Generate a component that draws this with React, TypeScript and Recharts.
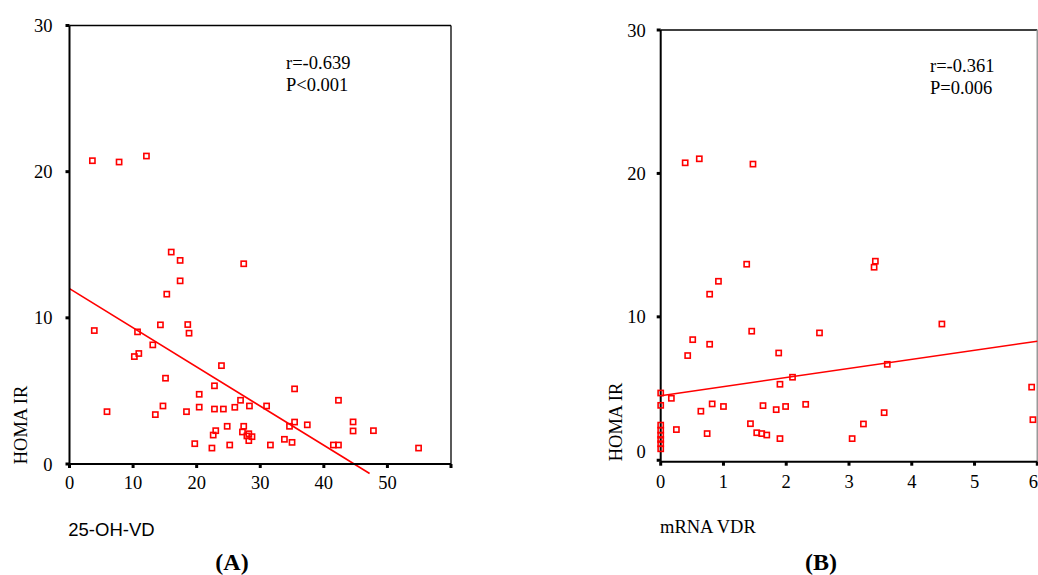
import React from 'react';
import { ScatterChart, Scatter, XAxis, YAxis, ReferenceLine } from 'recharts';

// Panel A: 25-OH-VD vs HOMA IR
const vdA: number[] = [3.6, 7.8, 12.1, 16.0, 17.4, 27.4, 17.4, 15.3, 3.9, 14.3, 18.6, 18.8, 10.7, 13.1, 10.2, 10.9, 23.9, 15.1, 22.8, 35.4, 20.4, 42.3, 26.9, 5.9, 14.7, 13.5, 18.4, 20.4, 22.8, 24.2, 26.0, 28.3, 31.0, 35.4, 34.6, 37.4, 44.6, 44.6, 47.8, 24.8, 27.4, 27.2, 23.0, 22.6, 28.2, 28.7, 27.9, 28.2, 19.7, 22.4, 25.2, 31.6, 33.8, 35.0, 41.5, 42.3, 54.9];
const homaA: number[] = [20.75, 20.66, 21.07, 14.5, 13.93, 13.7, 12.53, 11.62, 9.13, 9.52, 9.54, 8.95, 9.04, 8.15, 7.35, 7.56, 6.73, 5.87, 5.35, 5.14, 4.77, 4.36, 4.36, 3.58, 3.97, 3.38, 3.58, 3.89, 3.76, 3.76, 3.88, 3.97, 3.97, 2.87, 2.58, 2.68, 2.88, 2.26, 2.28, 2.58, 2.58, 2.19, 2.28, 1.98, 2.07, 1.87, 1.92, 1.6, 1.39, 1.09, 1.3, 1.3, 1.69, 1.48, 1.3, 1.3, 1.09];
const fitA = { x: [0, 47.2], y: [12.0, -0.65] };

// Panel B: mRNA VDR vs HOMA IR
const vdrB: number[] = [0.39, 0.615, 1.47, 1.37, 3.42, 3.40, 0.92, 0.78, 4.48, 1.45, 2.53, 0.51, 0.78, 0.43, 1.88, 3.61, 2.10, 1.90, 5.91, 0, 0.17, 0, 0.82, 1.0, 1.63, 1.99, 2.31, 1.84, 0.64, 3.56, 5.93, 0.25, 1.43, 3.23, 0.74, 1.53, 1.61, 1.69, 1.90, 3.05, 0, 0, 0, 0, 0, 0];
const homaB: number[] = [20.74, 21.02, 20.65, 13.67, 13.88, 13.46, 12.48, 11.58, 9.5, 9.0, 8.88, 8.41, 8.09, 7.3, 7.48, 6.69, 5.79, 5.3, 5.1, 4.69, 4.32, 3.83, 3.93, 3.75, 3.81, 3.75, 3.9, 3.53, 3.42, 3.32, 2.83, 2.14, 2.55, 2.53, 1.86, 1.92, 1.86, 1.76, 1.51, 1.51, 2.45, 2.1, 1.75, 1.45, 1.15, 0.8];
const fitB = { x: [0, 6], y: [4.5, 8.3] };

const xTicksA = [0, 10, 20, 30, 40, 50, 60];
const xTicksB = [0, 1, 2, 3, 4, 5, 6];
const yTicks = [0, 10, 20, 30];

const dataA = vdA.map((x, i) => ({ x, y: homaA[i] }));
const dataB = vdrB.map((x, i) => ({ x, y: homaB[i] }));

const SERIF = '"Liberation Serif", "Times New Roman", serif';
const SANS = '"Liberation Sans", Arial, sans-serif';
const RED = '#ff0000';

const Square = (props: any) => {
  const { cx, cy } = props;
  if (cx == null || cy == null) return null;
  return <rect x={cx - 2.6} y={cy - 2.6} width={5.2} height={5.2} fill="none" stroke={RED} strokeWidth={1.6} />;
};

const tickStyle = { fontFamily: SERIF, fontSize: 18.5, fill: '#000' };
const tickLine = { stroke: '#000', strokeWidth: 3 };
const axisLine = { stroke: '#000', strokeWidth: 2 };

const RightYTick = (props: any) => {
  const { x, y, payload } = props;
  const shift = payload.value === 0 ? -9 : 0;
  return (
    <text x={x} y={y + shift} dy="0.355em" textAnchor="end" fontFamily={SERIF} fontSize={18.5} fill="#000">
      {payload.value}
    </text>
  );
};

export default function App() {
  return (
    <div style={{ position: 'absolute', left: 0, top: 0, width: 1038, height: 575, overflow: 'hidden', background: '#fff' }}>
      <div style={{ position: 'absolute', left: 0, top: 0 }}>
        <ScatterChart width={460} height={575} margin={{ top: 25.5, right: 9, bottom: 81, left: 9.5 }}>
          <XAxis
            type="number"
            dataKey="x"
            domain={[0, 60]}
            ticks={xTicksA}
            tickFormatter={(v: number) => (v === 60 ? '' : String(v))}
            tick={tickStyle}
            tickLine={tickLine}
            axisLine={axisLine}
            tickSize={4}
            tickMargin={8}
            height={30}
          />
          <YAxis
            type="number"
            dataKey="y"
            domain={[0, 30]}
            ticks={yTicks}
            tick={tickStyle}
            tickLine={tickLine}
            axisLine={axisLine}
            tickSize={4}
            tickMargin={13}
            width={60}
          />
          <ReferenceLine y={30} stroke="#000" strokeWidth={1.3} />
          <ReferenceLine x={60} stroke="#000" strokeWidth={1.3} />
          <ReferenceLine
            segment={[{ x: fitA.x[0], y: fitA.y[0] }, { x: fitA.x[1], y: fitA.y[1] }]}
            stroke={RED}
            strokeWidth={1.6}
            ifOverflow="visible"
          />
          <Scatter data={dataA} shape={Square} isAnimationActive={false} />
        </ScatterChart>
      </div>
      <div style={{ position: 'absolute', left: 560, top: 0 }}>
        <ScatterChart width={478} height={575} margin={{ top: 30, right: 0.7, bottom: 83.3, left: 40.7 }}>
          <XAxis
            type="number"
            dataKey="x"
            domain={[0, 6]}
            ticks={xTicksB}
            tick={tickStyle}
            tickLine={tickLine}
            axisLine={axisLine}
            tickSize={4}
            tickMargin={9}
            height={30}
          />
          <YAxis
            type="number"
            dataKey="y"
            domain={[-0.1, 30]}
            ticks={yTicks}
            tick={RightYTick}
            tickLine={tickLine}
            axisLine={axisLine}
            tickSize={4}
            tickMargin={11}
            width={60}
          />
          <ReferenceLine y={30} stroke="#000" strokeWidth={1.6} />
          <ReferenceLine x={6} stroke="#999" strokeWidth={1.6} />
          <ReferenceLine
            segment={[{ x: fitB.x[0], y: fitB.y[0] }, { x: fitB.x[1], y: fitB.y[1] }]}
            stroke={RED}
            strokeWidth={1.6}
            ifOverflow="visible"
          />
          <Scatter data={dataB} shape={Square} isAnimationActive={false} />
        </ScatterChart>
      </div>
      <svg width={1038} height={575} style={{ position: 'absolute', left: 0, top: 0, pointerEvents: 'none' }}>
        <text x={286} y={69} fontFamily={SERIF} fontSize={18.5} fill="#000">r=-0.639</text>
        <text x={286} y={91} fontFamily={SERIF} fontSize={18.5} fill="#000">P&lt;0.001</text>
        <text x={26.5} y={425} transform="rotate(-90 26.5 425)" textAnchor="middle" fontFamily={SERIF} fontSize={18.5} fill="#000">HOMA IR</text>
        <text x={68.3} y={536} fontFamily={SANS} fontSize={18.5} fill="#000">25-OH-VD</text>
        <text x={232} y={570} textAnchor="middle" fontFamily={SERIF} fontSize={24} fontWeight="bold" fill="#000">(A)</text>

        <text x={930} y={72} fontFamily={SERIF} fontSize={18.5} fill="#000">r=-0.361</text>
        <text x={930} y={94} fontFamily={SERIF} fontSize={18.5} fill="#000">P=0.006</text>
        <text x={621.7} y={422} transform="rotate(-90 621.7 422)" textAnchor="middle" fontFamily={SERIF} fontSize={18.5} fill="#000">HOMA IR</text>
        <text x={660} y={533} fontFamily={SERIF} fontSize={18.5} fill="#000">mRNA VDR</text>
        <text x={821} y={570} textAnchor="middle" fontFamily={SERIF} fontSize={24} fontWeight="bold" fill="#000">(B)</text>
      </svg>
    </div>
  );
}
